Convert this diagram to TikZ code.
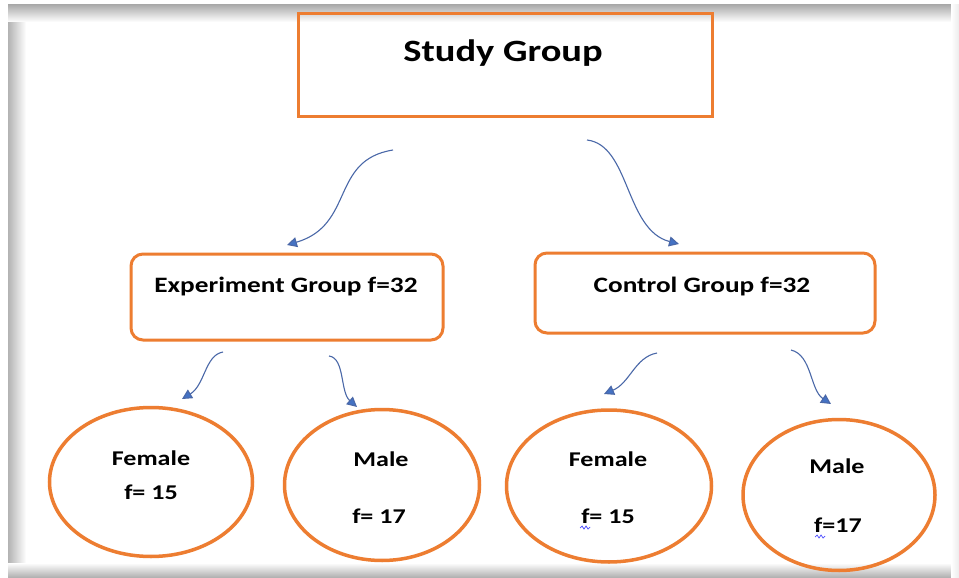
\documentclass[tikz,border=0pt]{standalone}
\usepackage{fontspec}
\setmainfont{Carlito}
\newfontfamily\widefont[FakeStretch=1.24]{Carlito}
\usetikzlibrary{arrows.meta,shapes.geometric}
\definecolor{borange}{HTML}{ED7D31}
\definecolor{arrblue}{HTML}{4A68A8}
\definecolor{headblue}{HTML}{4472C4}
\tikzset{
  orbox/.style={draw=borange, line width=3pt},
  orround/.style={draw=borange, line width=3pt, rounded corners=12pt},
  orell/.style={ellipse, draw=borange, line width=3.5pt, inner sep=0pt},
  lbl/.style={anchor=base, inner sep=0pt},
  small/.style={lbl, font=\widefont\bfseries\fontsize{21}{25}\selectfont},
  mid/.style={lbl, font=\widefont\bfseries\fontsize{22}{26}\selectfont},
  conn/.style={draw=arrblue, line width=1.1pt, -{Triangle[length=10pt,width=10pt,fill=headblue]}},
  squig/.style={draw=blue!70, line width=0.7pt}
}
\begin{document}
\begin{tikzpicture}[x=1pt,y=-1pt]
\useasboundingbox (0,0) rectangle (959,578);
\fill[white] (0,0) rectangle (959,578);
% screenshot frame shadows
\shade[left color=gray!60, right color=white] (8,5) rectangle (26,578);
\shade[top color=gray!65, bottom color=white] (8,5) rectangle (959,22);
\shade[top color=white, bottom color=gray!65] (8,563) rectangle (959,578);
\shade[left color=white, right color=gray!15] (951,5) rectangle (959,578);

% boxes
\node[orbox, minimum width=414pt, minimum height=102pt] (study) at (505,65) {};
\node[orround, minimum width=312pt, minimum height=86pt] (exp) at (287,297) {};
\node[orround, minimum width=340pt, minimum height=80pt] (ctrl) at (705,293) {};

% ellipses
\node[orell, minimum width=203pt, minimum height=149pt] (fem1) at (151,482) {};
\node[orell, minimum width=195pt, minimum height=151pt] (mal1) at (382,485) {};
\node[orell, minimum width=205pt, minimum height=152pt] (fem2) at (609,486) {};
\node[orell, minimum width=192pt, minimum height=151pt] (mal2) at (839,495) {};

% texts
\node[lbl, font=\widefont\bfseries\fontsize{31}{37}\selectfont] (tstudy) at (503,62) {Study Group};
\node[mid] (texp) at (286,292) {Experiment Group f=32};
\node[mid] (tctrl) at (702,292) {Control Group f=32};
\node[small] (tf1a) at (151,465) {Female};
\node[small] (tf1b) at (151,499) {f= 15};
\node[small] (tm1a) at (381,466) {Male};
\node[small] (tm1b) at (379,523) {f= 17};
\node[small] (tf2a) at (608,466) {Female};
\node[small] (tf2b) at (608,523) {f= 15};
\node[small] (tm2a) at (837,473) {Male};
\node[small] (tm2b) at (838,532) {f=17};

% spell-check squiggles
\draw[squig] (580,528) -- (582,526) -- (584,529) -- (586,526) -- (588,529) -- (590,527);
\draw[squig] (815,537) -- (817,535) -- (819,538) -- (821,535) -- (823,538) -- (825,536);

% connector end points
\coordinate (a1s) at (393,150);  \coordinate (a1e) at (287,245);
\coordinate (a2s) at (587,140);  \coordinate (a2e) at (679,244);
\coordinate (a3s) at (223,352);  \coordinate (a3e) at (182,399);
\coordinate (a4s) at (329,356);  \coordinate (a4e) at (357,407);
\coordinate (a5s) at (657,353);  \coordinate (a5e) at (604,394);
\coordinate (a6s) at (791,350);  \coordinate (a6e) at (831,404);

% connectors
\draw[conn] (a1s) .. controls (330,160) and (355,225) .. (a1e);
\draw[conn] (a2s) .. controls (630,145) and (625,230) .. (a2e);
\draw[conn] (a3s) .. controls (205,355) and (205,385) .. (a3e);
\draw[conn] (a4s) .. controls (345,358) and (340,392) .. (a4e);
\draw[conn] (a5s) .. controls (635,357) and (630,383) .. (a5e);
\draw[conn] (a6s) .. controls (812,355) and (810,390) .. (a6e);
\end{tikzpicture}
\end{document}
